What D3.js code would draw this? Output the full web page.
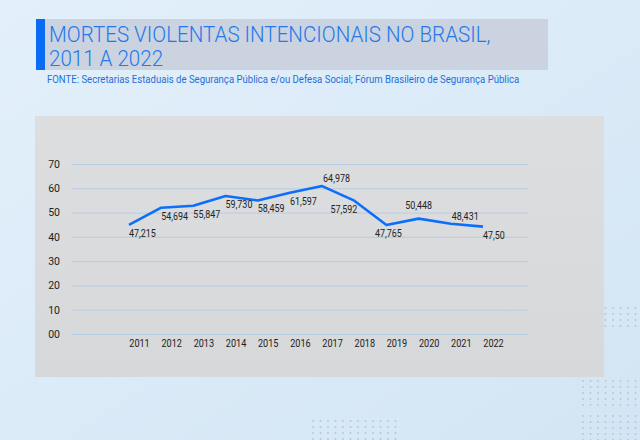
<!DOCTYPE html>
<html>
<head>
<meta charset="utf-8">
<script src="https://cdn.jsdelivr.net/npm/d3@7"></script>
<style>
  html, body { margin: 0; padding: 0; background: #dcebf8; }
  svg { display: block; font-family: Roboto, "Noto Sans", sans-serif; }
</style>
</head>
<body>
<svg id="chart" width="640" height="440"></svg>
<script>

	// Data
	// ==============================================

	var years = ["2011", "2012", "2013", "2014", "2015", "2016", "2017", "2018", "2019", "2020", "2021", "2022"];

	// plotted height of the line (as drawn, in the chart's 0-70 scale)
	var plotted = [44.9, 52.0, 52.8, 56.8, 55.0, 58.2, 60.9, 54.9, 44.9, 47.5, 45.4, 44.2];

	// printed point labels
	var pointLabels = ["47,215", "54,694", "55,847", "59,730", "58,459", "61,597", "64,978", "57,592", "47,765", "50,448", "48,431", "47,50"];

	// where each label sits against its point
	var labelPlace = ["below", "below", "below", "below", "below", "below", "above", "left", "belowMid", "aboveMid", "above", "below"];

	var yTicks = [0, 10, 20, 30, 40, 50, 60, 70];
	var yTickLabels = ["00", "10", "20", "30", "40", "50", "60", "70"];

	var titleLines = ["MORTES VIOLENTAS INTENCIONAIS NO BRASIL,", "2011 A 2022"];
	var source = "FONTE: Secretarias Estaduais de Segurança Pública e/ou Defesa Social; Fórum Brasileiro de Segurança Pública";

	// Setup
	// ==============================================

	var svg = d3.select("#chart");
	var narrow = "scale(0.86,1)";

	var defs = svg.append("defs");

	var bg = defs.append("linearGradient").attr("id", "bg")
		.attr("x1", 0).attr("y1", 0).attr("x2", 1).attr("y2", 1);
	bg.append("stop").attr("offset", "0%").attr("stop-color", "#e3f0fb");
	bg.append("stop").attr("offset", "100%").attr("stop-color", "#d3e5f4");

	var panelGrad = defs.append("linearGradient").attr("id", "panel")
		.attr("x1", 0).attr("y1", 0).attr("x2", 0).attr("y2", 1);
	panelGrad.append("stop").attr("offset", "0%").attr("stop-color", "#dcdee0");
	panelGrad.append("stop").attr("offset", "100%").attr("stop-color", "#d7d8d9");

	svg.append("rect")
		.attr("width", 640).attr("height", 440)
		.attr("fill", "url(#bg)");

	// Decoration dots
	// ==============================================

	function dotGrid(x0, y0, cols, rows){
		var pts = [];
		d3.range(rows).forEach(function(r){
			d3.range(cols).forEach(function(c){ pts.push([x0 + c * 7.5, y0 + r * 6]); });
		});
		svg.append("g").selectAll("circle").data(pts).enter().append("circle")
			.attr("cx", function(d){ return d[0]; })
			.attr("cy", function(d){ return d[1]; })
			.attr("r", 0.9)
			.attr("fill", "#a9b7c6")
			.attr("opacity", 0.7);
	}

	dotGrid(583, 381, 8, 5);
	dotGrid(583, 416, 8, 5);
	dotGrid(313, 421, 12, 4);
	dotGrid(583, 308, 8, 4);

	// Title block
	// ==============================================

	svg.append("rect")
		.attr("x", 45).attr("y", 19)
		.attr("width", 503).attr("height", 51)
		.attr("fill", "#cad3df");

	svg.append("rect")
		.attr("x", 36).attr("y", 19)
		.attr("width", 9).attr("height", 51)
		.attr("fill", "#0a6cf5");

	svg.append("g").selectAll("text").data(titleLines).enter().append("text")
		.attr("transform", function(d, i){ return "translate(49," + (41.5 + i * 24.8) + ") scale(0.97,1)"; })
		.attr("fill", "#2378ec")
		.attr("font-size", 21.2)
		.attr("font-weight", 300)
		.text(function(d){ return d; });

	svg.append("text")
		.attr("transform", "translate(47,82.5) scale(0.93,1)")
		.attr("fill", "#1f6fd8")
		.attr("font-size", 10.3)
		.text(source);

	// Chart panel
	// ==============================================

	svg.append("rect")
		.attr("x", 35).attr("y", 116)
		.attr("width", 569).attr("height", 261)
		.attr("fill", "url(#panel)");

	var xScale = d3.scalePoint().domain(years).range([129, 483]);
	var yScale = d3.scaleLinear().domain([0, 70]).range([334, 164]);

	// Gridlines + y labels
	var yAxis = d3.axisLeft(yScale)
		.tickValues(yTicks)
		.tickSize(-456)
		.tickPadding(12)
		.tickFormat(function(d, i){ return yTickLabels[i]; });

	var yG = svg.append("g")
		.attr("transform", "translate(72,0)")
		.call(yAxis);
	yG.select(".domain").remove();
	yG.selectAll(".tick line")
		.attr("stroke", "#b7cbe3")
		.attr("stroke-width", 1);
	yG.selectAll(".tick text")
		.attr("fill", "#222")
		.attr("font-size", 10.5)
		.attr("font-family", "Roboto, sans-serif");

	// x labels
	var xAxis = d3.axisBottom(xScale).tickSize(0).tickPadding(0);
	var xG = svg.append("g")
		.attr("transform", "translate(10,339)")
		.call(xAxis);
	xG.select(".domain").remove();
	xG.selectAll(".tick text")
		.attr("fill", "#222")
		.attr("font-size", 10.6)
		.attr("font-family", "Roboto, sans-serif")
		.attr("transform", narrow);

	// Line
	var line = d3.line()
		.x(function(d, i){ return xScale(years[i]); })
		.y(function(d){ return yScale(d); });

	svg.append("path")
		.datum(plotted)
		.attr("d", line)
		.attr("fill", "none")
		.attr("stroke", "#0d6efc")
		.attr("stroke-width", 2.6)
		.attr("stroke-linejoin", "round");

	// Point labels
	var place = {
		below:    { dx: 0,  dy: 12,  anchor: "start" },
		belowMid: { dx: 2,  dy: 12,  anchor: "middle" },
		above:    { dx: 1,  dy: -4,  anchor: "start" },
		aboveMid: { dx: 0,  dy: -10, anchor: "middle" },
		left:     { dx: 3,  dy: 12,  anchor: "end" }
	};

	svg.append("g").selectAll("text").data(pointLabels).enter().append("text")
		.attr("transform", function(d, i){
			var p = place[labelPlace[i]];
			return "translate(" + (xScale(years[i]) + p.dx) + "," + (yScale(plotted[i]) + p.dy) + ") " + narrow;
		})
		.attr("text-anchor", function(d, i){ return place[labelPlace[i]].anchor; })
		.attr("fill", "#222")
		.attr("font-size", 10.4)
		.text(function(d){ return d; });

</script>
</body>
</html>
